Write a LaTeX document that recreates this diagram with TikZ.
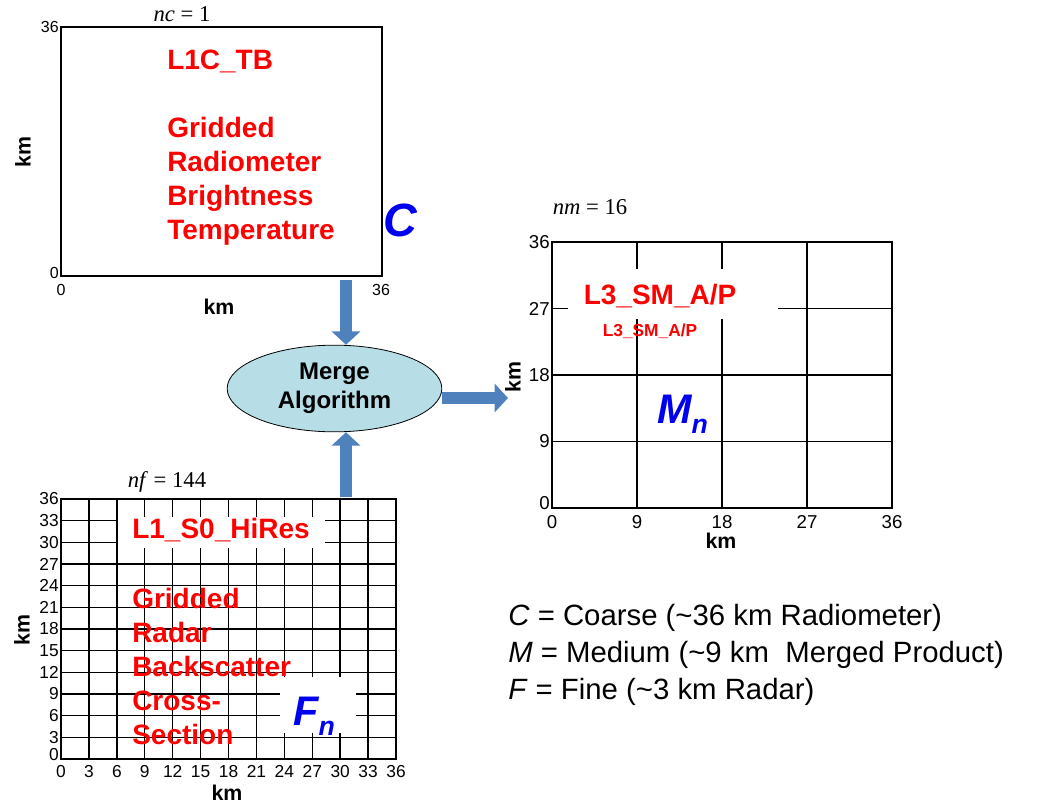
\documentclass[tikz,border=0pt]{standalone}
\usepackage{fontspec}
\setmainfont{Liberation Sans}
\newfontfamily\timesfont{Liberation Serif}
\usetikzlibrary{shapes.geometric,arrows.meta}
\definecolor{redtxt}{RGB}{255,0,0}
\definecolor{bluetxt}{RGB}{0,0,240}
\definecolor{arrowblue}{RGB}{79,129,189}
\definecolor{mergefill}{RGB}{183,222,230}

\begin{document}
\begin{tikzpicture}[x=0.75pt,y=-0.75pt,
  frame/.style={line width=1.3pt},
  gridline/.style={line width=1.1pt},
  tick/.style={inner sep=0pt},
  kmlabel/.style={font=\fontsize{16}{16}\selectfont\bfseries,inner sep=0pt},
  countlabel/.style={font=\fontsize{17}{17}\selectfont\timesfont,inner sep=0pt},
  product/.style={font=\fontsize{21}{25.5}\selectfont\bfseries,text=redtxt,align=left,inner sep=0pt},
  bigletter/.style={font=\fontsize{31}{31}\selectfont\bfseries\itshape,text=bluetxt,inner sep=0pt},
  fatarrow/.style={draw=arrowblue,line width=9pt,-{Triangle[width=21pt,length=10pt]}}
]
\useasboundingbox (0,0) rectangle (1055,805);

\draw[frame] (61,27) rectangle (382,276);
\node[tick,anchor=east,font=\fontsize{12}{12}\selectfont] at (59,27) {36};
\node[tick,anchor=east,font=\fontsize{12}{12}\selectfont] at (59,273) {0};
\node[tick,anchor=north,font=\fontsize{12}{12}\selectfont] at (61,284) {0};
\node[tick,anchor=north,font=\fontsize{12}{12}\selectfont] at (381,284) {36};
\node[kmlabel] at (219,307) {km};
\node[kmlabel,rotate=90] at (23,152) {km};
\node[countlabel] (nc) at (182,14) {\textit{nc} = 1};
\node[product,anchor=north west] (l1c) at (167,50)
  {L1C\_TB\\[25.5pt]Gridded\\Radiometer\\Brightness\\Temperature};
\node[bigletter,font=\fontsize{35}{35}\selectfont\bfseries\itshape,anchor=base west] (coarse) at (383,237) {C};

\foreach \i in {0,...,12} {
  \draw[gridline] ({61+27.917*\i},499) -- ++(0,260);
  \draw[gridline] (61,{499+21.667*\i}) -- ++(335,0);
  \pgfmathtruncatemacro\kmval{3*\i}
  \pgfmathsetmacro\ylab{ifthenelse(\i==0,755,759-21.667*\i)}
  \node[tick,anchor=east,font=\fontsize{13}{13}\selectfont] at (59,\ylab) {\kmval};
  \node[tick,anchor=north,font=\fontsize{13}{13}\selectfont] at ({61+27.917*\i},765) {\kmval};
}
\draw[frame] (61,499) rectangle (396,759);
\node[kmlabel] at (227,793) {km};
\node[kmlabel,rotate=90] at (22,630) {km};
\node[countlabel] (nf) at (167,482) {\textit{nf} = 144};
\fill[white] (118,517) rectangle (325,548);
\node[product] (l1s0) at (221,530) {L1\_S0\_HiRes};
\node[product,anchor=north west] (radar) at (132,588)
  {Gridded\\Radar\\Backscatter\\Cross-\\Section};
\fill[white] (280,677) rectangle (356,733);
\node[bigletter,anchor=base west] (fine) at (293,725)
  {F\raisebox{-7.5pt}{\fontsize{20}{20}\selectfont n}};

\foreach \i in {0,...,4} {
  \draw[gridline] ({552+85*\i},242) -- ++(0,266);
  \draw[gridline] (552,{242+66.5*\i}) -- ++(340,0);
  \pgfmathtruncatemacro\kmval{9*\i}
  \pgfmathsetmacro\ylab{ifthenelse(\i==0,503,508-66.5*\i)}
  \node[tick,anchor=east,font=\fontsize{14}{14}\selectfont] at (550,\ylab) {\kmval};
  \node[tick,anchor=north,font=\fontsize{14}{14}\selectfont] at ({552+85*\i},515) {\kmval};
}
\draw[frame] (552,242) rectangle (892,508);
\node[kmlabel] at (721,541) {km};
\node[kmlabel,rotate=90] at (513,377) {km};
\node[countlabel] (nm) at (590,207) {\textit{nm} = 16};
\fill[white] (568,269) rectangle (778,319);
\node[product] (l3big) at (660,296) {L3\_SM\_A/P};
\node[product,font=\fontsize{13}{13}\selectfont\bfseries] (l3small) at (650,331) {L3\_SM\_A/P};
\node[bigletter,anchor=base west] (medium) at (657,423)
  {M\raisebox{-7.5pt}{\fontsize{20}{20}\selectfont n}};

\node[ellipse,draw,line width=0.6pt,fill=mergefill,minimum width=161pt,minimum height=65pt,
  inner sep=0pt,align=center,font=\fontsize{18}{22}\selectfont\bfseries] (merge) at (334.5,388.5)
  {Merge\\Algorithm};
\coordinate (cout) at (346,280);
\coordinate (fout) at (346,497);
\coordinate (mtip) at (508,398);
\draw[fatarrow] (cout) -- (cout |- merge.north);
\draw[fatarrow] (fout) -- (fout |- merge.south);
\draw[fatarrow] (merge.east |- mtip) -- (mtip);

\node[anchor=west,align=left,inner sep=0pt,font=\fontsize{22}{27.75}\selectfont] (legend) at (508,655)
  {\textit{C} = Coarse (\textasciitilde36 km Radiometer)\\
   \textit{M} = Medium (\textasciitilde9 km\ \ Merged Product)\\
   \textit{F} = Fine (\textasciitilde3 km Radar)};
\end{tikzpicture}
\end{document}
